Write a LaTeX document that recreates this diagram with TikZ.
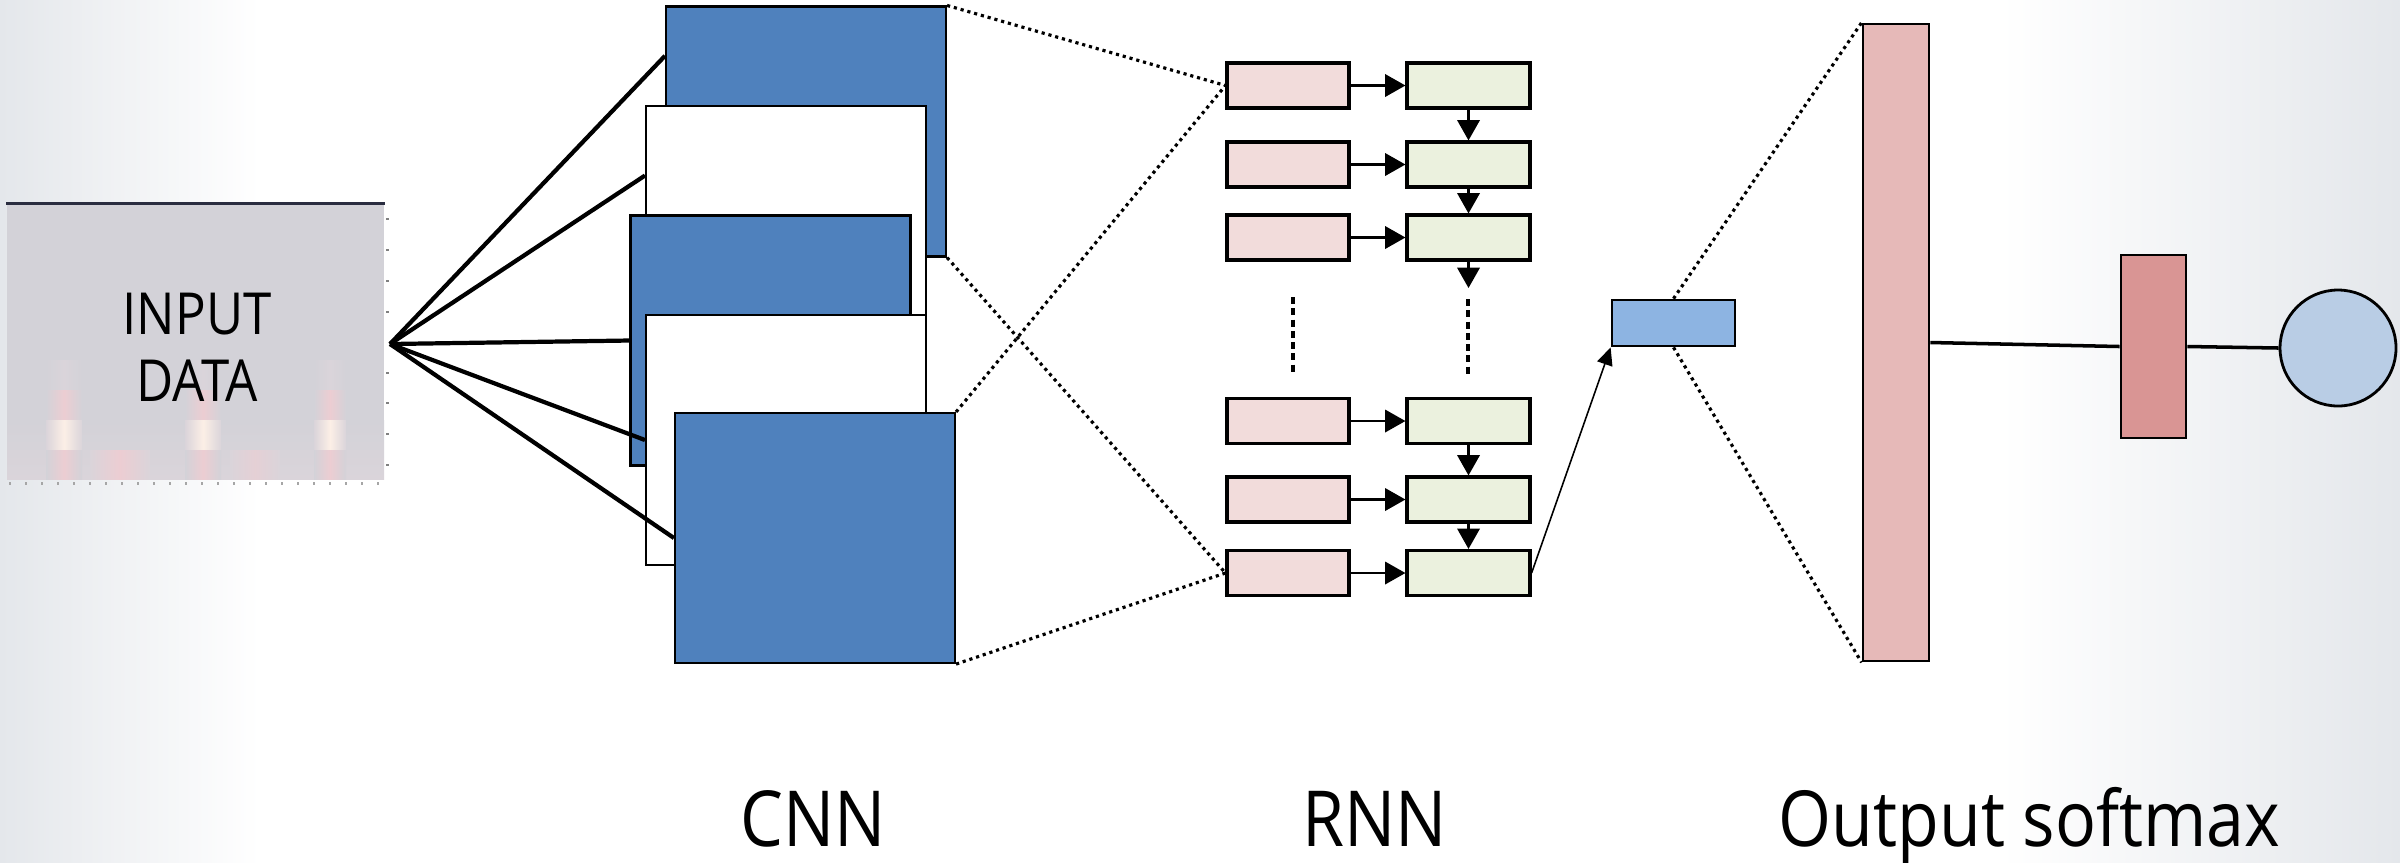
\documentclass[tikz,border=0pt]{standalone}
\usepackage{fontspec}
\setmainfont{Open Sans}
\newfontfamily\lblfont[FakeStretch=0.88]{Open Sans}
\usetikzlibrary{arrows.meta,calc}
\definecolor{bgedge}{HTML}{E4E7EB}
\definecolor{inputgray}{HTML}{D3D2D8}
\definecolor{navyline}{HTML}{2A2D40}
\definecolor{cnnblue}{HTML}{4F81BD}
\definecolor{rnnpink}{HTML}{F2DCDB}
\definecolor{rnngreen}{HTML}{EBF1DE}
\definecolor{vecblue}{HTML}{8DB4E2}
\definecolor{barpink}{HTML}{E6B9B8}
\definecolor{boxred}{HTML}{D99594}
\definecolor{circblue}{HTML}{B9CDE5}
\definecolor{heatpink}{HTML}{ECCDD2}
\definecolor{heatbright}{HTML}{FCEFE6}
\definecolor{heatfaint}{HTML}{DAD4DA}
\begin{document}
\begin{tikzpicture}[x=1cm,y=-1cm,
  cnnbox/.style={draw=black, line width=0.6pt, minimum width=2.8cm, minimum height=2.5cm, inner sep=0pt},
  rnnbox/.style={draw=black, line width=0.9pt, minimum width=1.22cm, minimum height=0.45cm, inner sep=0pt},
  obox/.style={draw=black, line width=0.8pt, inner sep=0pt},
  fanline/.style={line width=1.2pt},
  dotline/.style={line width=0.9pt, dash pattern=on 0.9pt off 1.1pt},
  rnnarrow/.style={-{Triangle[length=5.8pt,width=6.4pt]}, line width=0.6pt},
  dashline/.style={line width=1.1pt, dash pattern=on 2pt off 1.2pt},
  lbl/.style={font=\lblfont\fontsize{22}{26}\selectfont, anchor=base, inner sep=0pt}
]
\useasboundingbox (0,0) rectangle (24,8.62);
% background
\fill[white] (0,0) rectangle (24,8.62);
\shade[left color=bgedge, right color=white] (0,0) rectangle (2.6,8.62);
\shade[left color=white, right color=bgedge] (20.0,0) rectangle (24,8.62);

% input data
\node[fill=inputgray, minimum width=3.77cm, minimum height=2.75cm, inner sep=0pt] (input) at (1.955,3.415) {};
\shade[top color=inputgray, bottom color=heatfaint] (0.07,4.20) rectangle (3.84,4.79);
\foreach \cx/\w in {0.64/0.36, 2.03/0.36, 3.30/0.32}{
  \shade[left color=inputgray, right color=inputgray, middle color=heatfaint] (\cx-\w/2,3.60) rectangle (\cx+\w/2,3.90);
  \shade[left color=inputgray, right color=inputgray, middle color=heatpink] (\cx-\w/2,3.90) rectangle (\cx+\w/2,4.20);
  \shade[left color=heatfaint, right color=heatfaint, middle color=heatbright] (\cx-\w/2,4.20) rectangle (\cx+\w/2,4.50);
  \shade[left color=inputgray, right color=inputgray, middle color=heatpink] (\cx-\w/2,4.50) rectangle (\cx+\w/2,4.79);
}
\shade[left color=heatfaint, right color=heatfaint, middle color=heatpink] (0.90,4.50) rectangle (1.50,4.79);
\shade[left color=heatfaint, right color=heatfaint, middle color=heatpink!60!heatfaint] (2.30,4.50) rectangle (2.80,4.79);
\draw[navyline, line width=0.9pt] (input.north west) -- (input.north east);
\foreach \ty in {2.19,2.50,2.81,3.12,3.73,4.03,4.34,4.65}{
  \draw[gray, line width=0.4pt] (3.86,\ty) -- (3.89,\ty);
}
\foreach \tx in {0.10,0.26,...,3.80}{
  \draw[gray!70, line width=0.4pt] (\tx,4.82) -- (\tx,4.85);
}
\node[font=\lblfont\fontsize{16.5}{19}\selectfont, align=center, inner sep=0pt] (inputtext) at (1.97,3.47) {INPUT\\DATA};
\coordinate (fan) at (3.90,3.44);

% CNN feature maps
\node[cnnbox, fill=cnnblue] (c1) at (8.06,1.315) {};
\node[cnnbox, fill=white]   (c2) at (7.86,2.31) {};
\node[cnnbox, fill=cnnblue] (c3) at (7.705,3.405) {};
\node[cnnbox, fill=white]   (c4) at (7.86,4.40) {};
\node[cnnbox, fill=cnnblue] (c5) at (8.15,5.38) {};

\draw[fanline] (fan) -- ($(c1.north west)!0.2!(c1.south west)$);
\draw[fanline] (fan) -- ($(c2.north west)!0.28!(c2.south west)$);
\draw[fanline] (fan) -- (c3.west);
\draw[fanline] (fan) -- (c4.west);
\draw[fanline] (fan) -- (c5.west);

% RNN
\foreach \i/\y in {1/0.855, 2/1.645, 3/2.375, 4/4.21, 5/4.995, 6/5.73}{
  \node[rnnbox, fill=rnnpink]  (p\i) at (12.88,\y) {};
  \node[rnnbox, fill=rnngreen, minimum width=1.23cm] (g\i) at (14.685,\y) {};
  \draw[rnnarrow] (p\i.east) -- (g\i.west);
}
\draw[rnnarrow] (g1.south) -- (g2.north);
\draw[rnnarrow] (g2.south) -- (g3.north);
\coordinate (g3end) at (14.685,2.88);
\draw[rnnarrow] (g3.south) -- (g3end);
\draw[rnnarrow] (g4.south) -- (g5.north);
\draw[rnnarrow] (g5.south) -- (g6.north);
\coordinate (dpa) at (12.93,2.97);
\coordinate (dpb) at (12.93,3.72);
\coordinate (dga) at (14.68,2.99);
\coordinate (dgb) at (14.68,3.74);
\draw[dashline] (dpa) -- (dpb);
\draw[dashline] (dga) -- (dgb);

% CNN -> RNN dotted
\draw[dotline] (c1.north east) -- (p1.west);
\draw[dotline] (c1.south east) -- (p6.west);
\draw[dotline] (c5.north east) -- (p1.west);
\draw[dotline] (c5.south east) -- (p6.west);

% output
\node[obox, fill=vecblue, minimum width=1.23cm, minimum height=0.46cm] (vec) at (16.735,3.23) {};
\node[obox, fill=barpink, minimum width=0.66cm, minimum height=6.37cm] (bar) at (18.96,3.425) {};
\node[obox, fill=boxred, minimum width=0.65cm, minimum height=1.83cm] (red) at (21.535,3.465) {};
\node[obox, fill=circblue, circle, minimum size=1.16cm] (out) at (23.38,3.48) {};

\draw[-{Triangle[length=5pt,width=4.5pt]}, line width=0.45pt] (g6.east) -- (vec.south west);
\draw[dotline] (vec.north) -- (bar.north west);
\draw[dotline] (vec.south) -- (bar.south west);
\draw[line width=1pt] (bar.east) -- (red.west);
\draw[line width=1pt] (red.east) -- (out.west);

% labels
\node[lbl] (cnnlbl) at (8.135,8.46) {CNN};
\node[lbl] (rnnlbl) at (13.745,8.46) {RNN};
\node[lbl] (outlbl) at (20.295,8.46) {Output softmax};
\end{tikzpicture}
\end{document}
